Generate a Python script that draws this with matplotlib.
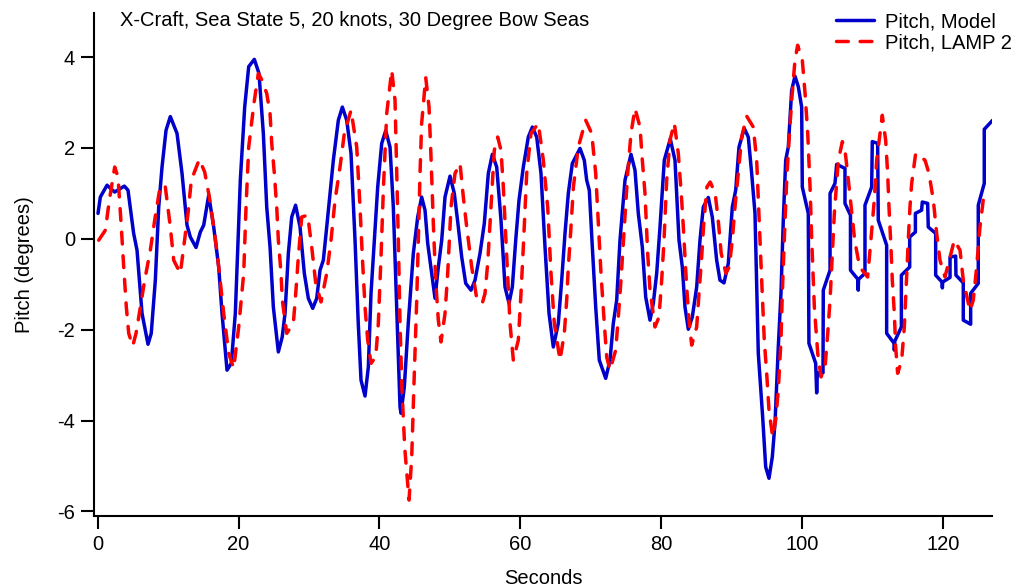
import matplotlib
matplotlib.use("Agg")
import matplotlib.pyplot as plt

title = "X-Craft, Sea State 5, 20 knots, 30 Degree Bow Seas"
xlabel = "Seconds"
ylabel = "Pitch (degrees)"
series_names = ["Pitch, Model", "Pitch, LAMP 2"]
xticks = [0, 20, 40, 60, 80, 100, 120]
yticks = [-6, -4, -2, 0, 2, 4]

model_t = [0.04, 0.37, 1.32, 2.4, 3.78, 4.3, 5.1, 5.58, 6.29, 7.14, 7.6, 8.18, 8.66, 9.13, 9.7,
           10.31, 11.26, 11.97, 12.68, 13.15, 13.96, 14.57, 15.05, 15.76, 16.47, 17.18, 17.65,
           18.36, 18.97, 19.54, 20.25, 20.87, 21.44, 22.24, 22.9, 23.52, 24.0, 24.47, 24.94,
           25.65, 26.2, 26.6, 27.07, 27.55, 28.1, 28.73, 29.34, 29.91, 30.53, 31.1, 31.57,
           32.04, 32.52, 33.46, 34.17, 34.74, 35.36, 35.97, 36.54, 37.0, 37.39, 37.96, 38.43,
           38.81, 39.28, 39.76, 40.33, 40.9, 41.51, 41.98, 42.46, 42.93, 43.07, 43.54, 44.1,
           44.82, 45.44, 46.0, 46.48, 46.86, 47.43, 47.9, 48.37, 48.85, 49.32, 50.03, 50.64,
           51.21, 51.69, 52.26, 53.01, 53.58, 54.29, 54.9, 55.47, 56.04, 56.66, 57.27, 57.84,
           58.41, 58.88, 59.36, 59.83, 60.44, 61.15, 61.72, 62.34, 62.95, 63.52, 64.09, 64.7,
           65.41, 65.89, 66.36, 66.83, 67.4, 68.49, 69.1, 69.44, 69.81, 70.24, 70.72, 71.23,
           72.14, 72.75, 73.22, 73.7, 74.17, 74.88, 75.73, 76.3, 76.77, 77.34, 77.82, 78.43,
           78.9, 79.38, 79.85, 80.46, 81.31, 81.98, 82.55, 83.02, 83.4, 83.87, 84.44, 85.06,
           85.53, 86.0, 86.71, 87.28, 87.9, 88.37, 88.94, 89.55, 90.12, 90.6, 91.07, 91.82,
           92.39, 92.87, 93.34, 93.81, 94.43, 94.86, 95.33, 95.8, 96.18, 96.65, 97.03, 97.36,
           97.7, 98.07, 98.55, 99.02, 99.49, 99.97, 100.06, 100.91, 101.0, 101.96, 102.1,
           102.2, 103.0, 103.04, 104.0, 104.0, 104.7, 104.94, 106.12, 106.12, 106.9, 106.9,
           107.95, 108.0, 108.05, 108.96, 108.96, 109.91, 110.0, 110.76, 110.85, 112.04, 112.04,
           113.1, 113.13, 113.2, 114.13, 114.13, 115.31, 115.31, 116.12, 116.12, 117.0, 117.1,
           117.86, 117.95, 119.0, 119.0, 119.9, 119.95, 120.0, 121.04, 121.04, 121.84, 121.88,
           122.92, 122.92, 123.97, 123.97, 125.05, 125.05, 125.9, 125.9, 127.09]
model_pitch = [0.56, 0.92, 1.18, 1.03, 1.16, 1.07, 0.12, -0.25, -1.64, -2.32, -2.08, -0.91, 0.70,
               1.58, 2.39, 2.69, 2.32, 1.44, 0.30, 0.04, -0.19, 0.15, 0.30, 0.96, 0.26, -0.62,
               -1.64, -2.89, -2.74, -1.64, 1.29, 2.90, 3.79, 3.95, 3.64, 2.32, 0.70, -0.18, -1.50,
               -2.49, -2.16, -1.64, -0.32, 0.48, 0.74, 0.26, -0.76, -1.31, -1.53, -1.31, -0.69,
               -0.47, 0.26, 1.73, 2.61, 2.90, 2.61, 1.88, -0.03, -1.86, -3.11, -3.46, -2.82,
               -1.20, -0.03, 1.14, 2.10, 2.38, 2.02, 0.70, -1.50, -3.70, -3.84, -3.26, -1.86,
               -0.32, 0.48, 0.92, 0.63, -0.10, -0.76, -1.31, -0.62, -0.03, 0.92, 1.38, 1.0,
               0.26, -0.40, -0.98, -1.13, -0.91, -0.32, 0.34, 1.44, 1.86, 1.58, 0.41, -1.06,
               -1.42, -1.06, -0.03, 0.85, 1.58, 2.24, 2.46, 2.24, 1.44, -0.18, -1.64, -2.38,
               -1.86, -0.91, 0.12, 1.0, 1.66, 1.99, 1.73, 1.29, 1.07, -0.18, -1.50, -2.67,
               -3.07, -2.67, -1.86, -1.35, -0.03, 1.29, 1.86, 1.51, 0.56, -0.18, -1.28, -1.79,
               -1.42, -0.76, 0.26, 1.73, 2.20, 1.73, -0.03, -0.62, -1.50, -1.99, -1.72, -1.06,
               -0.03, 0.70, 0.91, 0.48, -0.47, -0.91, -0.97, -0.54, 0.70, 1.07, 2.02, 2.43,
               2.24, 1.44, 0.56, -2.52, -3.92, -5.02, -5.27, -4.80, -4.06, -2.38, -1.20, 0.41,
               1.73, 2.02, 3.27, 3.58, 3.35, 2.90, 1.14, 0.56, -2.30, -2.74, -3.39,
               -2.95, -2.95, -1.13, -0.69, 1.0, 1.22, 1.64, 1.55, 0.78, 0.52, -0.69,
               -0.89, -1.13, -0.89, -0.76, 0.74, 1.14, 2.14, 2.10, 0.41, -0.14, -2.08,
               -2.30, -2.45, -2.25, -1.94, -0.80, -0.62, 0.04, 0.15, 0.56, 0.63, 0.81,
               0.78, 0.26, 0.12, -0.80, -0.95, -1.08, -0.95, -0.85, -0.40, -0.38, -0.80,
               -0.97, -1.79, -1.88, -1.20, -0.98, 0.74, 1.22, 2.41, 2.61]

lamp_t = [0.14, 1.08, 1.65, 2.41, 2.88, 3.35, 3.69, 4.06, 4.40, 4.97, 5.44, 5.91, 6.67, 7.47,
          8.09, 8.89, 9.6, 10.31, 10.79, 11.73, 12.21, 12.82, 13.29, 14.43, 15.19, 15.85, 16.61,
          17.18, 17.89, 18.6, 19.31, 20.02, 20.73, 21.06, 21.44, 21.81, 22.2, 22.81, 23.3, 24.0,
          24.47, 24.71, 25.08, 25.42, 25.65, 26.03, 26.21, 26.84, 27.78, 28.12, 28.49, 28.97,
          29.82, 30.39, 30.96, 31.71, 32.52, 33.13, 33.7, 34.41, 35.02, 35.97, 36.78, 37.25,
          37.58, 37.96, 38.34, 38.81, 39.48, 39.85, 40.23, 40.56, 41.04, 41.75, 42.22, 42.46,
          42.69, 42.93, 43.2, 43.6, 44.21, 44.59, 44.96, 45.3, 45.53, 45.77, 46.0, 46.58, 47.05,
          47.33, 47.66, 47.99, 48.37, 48.75, 49.32, 49.7, 50.17, 50.74, 51.45, 51.92, 52.4,
          53.11, 53.82, 54.61, 55.0, 55.38, 55.85, 56.32, 56.8, 57.27, 57.6, 58.08, 58.55,
          59.02, 59.73, 60.11, 60.44, 60.92, 61.53, 62.57, 63.28, 63.9, 64.37, 64.84, 65.65,
          66.26, 66.6, 66.83, 67.21, 67.55, 68.25, 69.3, 70.15, 70.72, 71.09, 71.47, 71.94,
          72.28, 72.75, 73.56, 73.93, 74.31, 74.78, 75.26, 75.73, 76.3, 77.01, 77.34, 77.72,
          78.1, 78.43, 79.14, 79.71, 80.09, 80.42, 80.8, 81.27, 81.88, 82.45, 82.93, 83.16,
          83.64, 83.97, 84.35, 85.06, 85.39, 85.77, 86.03, 86.51, 86.98, 87.69, 88.16, 88.54,
          89.21, 89.68, 90.12, 90.5, 90.97, 91.45, 92.16, 93.1, 93.58, 93.91, 94.29, 94.66,
          95.0, 95.33, 95.85, 96.28, 96.65, 97.03, 97.22, 97.5, 97.84, 98.17, 98.55, 99.02,
          99.4, 100.06, 100.45, 100.83, 101.16, 101.4, 101.77, 102.25, 102.72, 103.29, 103.67,
          104.0, 104.33, 104.61, 105.18, 105.75, 106.2, 106.6, 107.1, 107.5, 108.2, 109.34,
          109.8, 110.28, 110.62, 111.42, 111.9, 112.18, 112.37, 112.65, 112.84, 113.13, 113.32,
          113.6, 114.17, 114.55, 114.79, 115.11, 115.35, 115.59, 116.16, 117.49, 118.05,
          118.67, 119.14, 119.61, 120.32, 121.17, 121.65, 122.46, 122.92, 123.87, 124.34,
          124.82, 125.29, 125.8]
lamp_pitch = [-0.03, 0.19, 0.85, 1.58, 1.36, 0.26, -0.62, -1.50, -2.08, -2.36, -2.08, -1.64,
              -0.91, -0.25, 0.41, 1.18, 1.14, 0.26, -0.47, -0.76, -0.18, 0.56, 1.29, 1.75, 1.47,
              0.92, 0.12, -0.62, -1.64, -2.52, -2.85, -1.94, -0.76, 0.70, 2.02, 2.50, 3.0, 3.64,
              3.50, 3.20, 2.76, 2.10, 1.44, 0.70, -0.03, -0.76, -1.35, -2.08, -1.86, -1.20, -0.40,
              0.48, 0.52, -0.18, -0.98, -1.39, -0.76, -0.03, 0.85, 1.58, 2.32, 2.83, 2.02, 0.70,
              -0.40, -1.50, -2.23, -2.74, -2.60, -1.86, -0.40, 1.07, 2.76, 3.71, 3.05, 1.44,
              -0.03, -1.86, -3.3, -4.6, -5.75, -4.80, -2.96, -1.35, -0.03, 1.44, 2.54, 3.55, 2.90,
              1.80, 0.34, -0.91, -1.79, -2.27, -1.64, -0.76, 0.70, 1.44, 1.66, 0.92, 0.26,
              -0.62, -1.31, -1.42, -1.20, -0.54, 0.70, 1.95, 2.24, 1.95, 1.14, -0.40, -1.86,
              -2.67, -2.23, -1.20, -0.18, 1.44, 2.32, 2.54, 1.73, 0.70, -0.76, -1.86, -2.67,
              -2.08, -1.35, -0.62, 0.26, 1.14, 2.02, 2.61, 2.32, 1.44, 0.34, -0.76, -1.86,
              -2.60, -2.89, -2.45, -1.72, -0.91, 0.26, 1.44, 2.32, 2.87, 2.46, 1.73, 1.0,
              -0.32, -1.13, -1.94, -1.72, -0.91, -0.03, 1.29, 2.17, 2.55, 1.88, 0.85, 0.26,
              -1.06, -1.79, -2.34, -1.94, -1.20, -0.40, 0.26, 1.14, 1.25, 1.0, 0.34, -0.32,
              -0.76, -0.62, -0.03, 0.70, 1.44, 2.24, 2.70, 2.46, 1.73, 0.48, -0.91, -2.23,
              -2.96, -3.77, -4.36, -3.99, -3.33, -2.23, -1.20, -0.03, 1.29, 2.17, 3.05, 3.93,
              4.26, 3.93, 3.20, 2.32, 1.14, -0.03, -1.50, -2.52, -3.04, -2.82, -2.08,
              -1.35, -0.32, 0.56, 1.73, 2.14, 1.85, 1.29, 0.56, -0.03, -0.62, -0.84,
              -0.03, 0.85, 1.73, 2.72, 2.17, 1.44, 0.70, -0.18, -0.91, -1.64, -2.38,
              -2.96, -2.67, -1.94, -1.13, -0.03, 0.70, 1.22, 1.88, 1.73, 1.44,
              0.85, 0.12, -0.47, -0.84, -0.32, -0.03, -0.25, -0.91, -1.58, -1.35,
              -0.62, 0.26, 0.91]

plt.rcParams['font.family'] = ['Liberation Sans', 'DejaVu Sans']
plt.rcParams['axes.unicode_minus'] = False

FS = 14.5

fig = plt.figure(figsize=(10.14, 5.88), dpi=100)
ax = fig.add_axes([94/1014, 1 - 516/588, (992 - 94)/1014, (516 - 13)/588])

ax.plot(model_t, model_pitch, color='#0000CC', lw=2.5, solid_joinstyle='round',
        solid_capstyle='round', label=series_names[0], zorder=2)
ax.plot(lamp_t, lamp_pitch, color='#FF0000', lw=2.5, dashes=(3.4, 3.4),
        dash_capstyle='round', dash_joinstyle='round', label=series_names[1], zorder=3)

ax.set_xlim(-0.53, 127.0)
ax.set_ylim(-6.10, 4.97)
ax.set_xticks(xticks)
ax.set_yticks(yticks)
for s in ['top', 'right']:
    ax.spines[s].set_visible(False)
for s in ['left', 'bottom']:
    ax.spines[s].set_linewidth(1.5)
ax.tick_params(direction='out', length=9.5, width=1.5, labelsize=FS, pad=4)

ax.set_xlabel(xlabel, fontsize=FS, labelpad=11)
ax.set_ylabel(ylabel, fontsize=FS, labelpad=17)

fig.text(120/1014, 1 - 20/588, title, fontsize=FS, ha='left', va='center')

leg = fig.legend(loc='upper left', bbox_to_anchor=(836/1014, 1 - 12/588), frameon=False,
                 fontsize=FS, handlelength=1.9, handletextpad=0.55, borderpad=0,
                 borderaxespad=0, labelspacing=0.12)

fig.savefig('out.png', dpi=100)
